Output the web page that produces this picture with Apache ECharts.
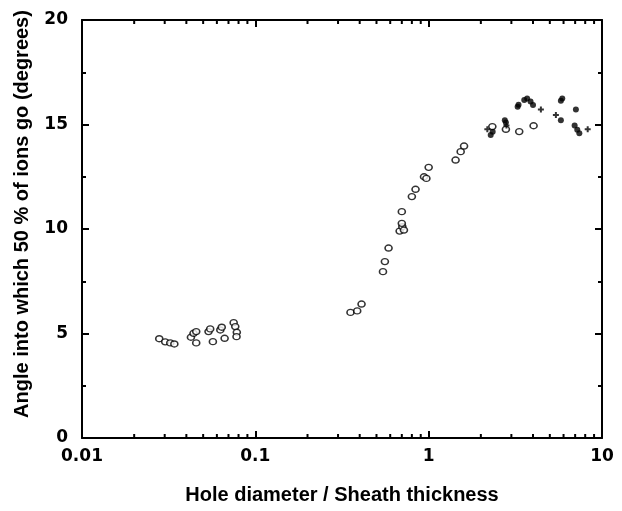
<!DOCTYPE html>
<html lang="en">
<head>
    <meta charset="UTF-8">
    <title>Angle vs hole diameter</title>
    <script src="https://cdn.jsdelivr.net/npm/echarts@6/dist/echarts.min.js"></script>
    <style>
        html, body { margin: 0; padding: 0; background: #fff; }
        #chart { width: 622px; height: 511px; }
    </style>
</head>
<body>
    <div id="chart"></div>
    <script>
        // open circles
        const openPts = [
            [0.0279, 4.75], [0.0302, 4.6], [0.0323, 4.55], [0.0341, 4.5],
            [0.0425, 4.82], [0.044, 5.01], [0.0456, 5.09], [0.0456, 4.55],
            [0.0537, 5.09], [0.0549, 5.22], [0.0569, 4.61],
            [0.0628, 5.17], [0.064, 5.3], [0.0665, 4.77],
            [0.075, 5.52], [0.0766, 5.33], [0.0782, 5.06], [0.0779, 4.85],
            [0.354, 6.01], [0.387, 6.08], [0.41, 6.41],
            [0.545, 7.96], [0.559, 8.44], [0.587, 9.09],
            [0.68, 9.9], [0.705, 10.11], [0.72, 9.95], [0.70, 10.27], [0.70, 10.83],
            [0.80, 11.55], [0.84, 11.9], [0.94, 12.5], [0.97, 12.42], [1.0, 12.95],
            [1.43, 13.3], [1.53, 13.7], [1.6, 13.97],
            [2.33, 14.9], [2.79, 14.77], [3.33, 14.66], [4.03, 14.94]
        ];
        // filled markers
        const filledPts = [
            [2.28, 14.5], [2.34, 14.65], [2.75, 15.2], [2.79, 15.1],
            [3.26, 15.85], [3.3, 15.95], [3.56, 16.17], [3.7, 16.25], [3.87, 16.1], [4.0, 15.93],
            [5.79, 16.14], [5.9, 16.25], [5.79, 15.2],
            [7.07, 15.72], [6.95, 14.95], [7.2, 14.75], [7.4, 14.58]
        ];
        // plus markers
        const plusPts = [
            [2.18, 14.77], [2.81, 14.95], [4.44, 15.72], [5.42, 15.45], [8.27, 14.77]
        ];
        const xTickLabels = ['0.01', '0.1', '1', '10'];
        const xMinorTicks = [];
        [0.01, 0.1, 1].forEach(d => {
            for (let k = 2; k <= 9; k++) xMinorTicks.push(+(d * k).toPrecision(3));
        });

        const tickFont = { fontFamily: 'DejaVu Sans, sans-serif', fontWeight: 'bold', color: '#000', fontSize: 17 };
        const titleFont = { fontFamily: 'Liberation Sans, Arial, sans-serif', fontWeight: 'bold', color: '#000' };
        const axisLine = { show: true, onZero: false, lineStyle: { color: '#000', width: 2 } };

        const chart = echarts.init(document.getElementById('chart'));
        chart.setOption({
            animation: false,
            grid: { left: 82, right: 20, top: 20, bottom: 73 },
            xAxis: [{
                type: 'log', logBase: 10, min: 0.01, max: 10,
                position: 'bottom',
                axisLine: axisLine,
                axisTick: { inside: true, length: 7, lineStyle: { color: '#000', width: 2 } },
                axisLabel: Object.assign({ margin: 10,
                    formatter: v => xTickLabels.find(t => Math.abs(parseFloat(t) - v) < v * 1e-6) || '' }, tickFont),
                splitLine: { show: false },
                name: 'Hole diameter / Sheath thickness',
                nameLocation: 'middle', nameGap: 47,
                nameTextStyle: Object.assign({ fontSize: 20 }, titleFont)
            }, {
                type: 'log', logBase: 10, min: 0.01, max: 10,
                position: 'top',
                axisLine: axisLine,
                axisTick: { inside: true, length: 7, lineStyle: { color: '#000', width: 2 } },
                axisLabel: { show: false },
                splitLine: { show: false }
            }],
            yAxis: [{
                type: 'value', min: 0, max: 20, interval: 5,
                axisLine: axisLine,
                axisTick: { inside: true, length: 7, lineStyle: { color: '#000', width: 2 } },
                minorTick: { show: true, splitNumber: 2, length: 4, lineStyle: { color: '#000', width: 2 } },
                axisLabel: Object.assign({ margin: 14 }, tickFont),
                splitLine: { show: false },
                name: 'Angle into which 50 % of ions go (degrees)',
                nameLocation: 'middle', nameGap: 50, nameRotate: 90,
                nameTextStyle: Object.assign({ fontSize: 20, padding: [0, 0, 0, 30] }, titleFont)
            }, {
                type: 'value', min: 0, max: 20, interval: 5,
                position: 'right',
                axisLine: axisLine,
                axisTick: { inside: true, length: 7, lineStyle: { color: '#000', width: 2 } },
                minorTick: { show: true, splitNumber: 2, length: 4, lineStyle: { color: '#000', width: 2 } },
                axisLabel: { show: false },
                splitLine: { show: false }
            }],
            series: [{
                type: 'scatter', data: openPts,
                symbol: 'circle', symbolSize: [7, 6],
                itemStyle: { color: '#fff', borderColor: '#000', borderWidth: 1.5 }
            }, {
                type: 'scatter', data: filledPts,
                symbol: 'circle', symbolSize: 6,
                itemStyle: { color: '#000' }
            }, {
                type: 'scatter', data: plusPts,
                symbol: 'path://M2,0H4V2H6V4H4V6H2V4H0V2H2Z', symbolSize: 6,
                itemStyle: { color: '#000' }
            }, {
                type: 'custom', data: xMinorTicks.map(v => [v, 0]),
                silent: true,
                renderItem: function (params, api) {
                    const b = api.coord([api.value(0), 0]);
                    const t = api.coord([api.value(0), 20]);
                    const st = { stroke: '#000', lineWidth: 2 };
                    return {
                        type: 'group',
                        children: [
                            { type: 'line', shape: { x1: b[0], y1: b[1], x2: b[0], y2: b[1] - 4 }, style: st },
                            { type: 'line', shape: { x1: t[0], y1: t[1], x2: t[0], y2: t[1] + 4 }, style: st }
                        ]
                    };
                }
            }]
        });
    </script>
</body>
</html>
